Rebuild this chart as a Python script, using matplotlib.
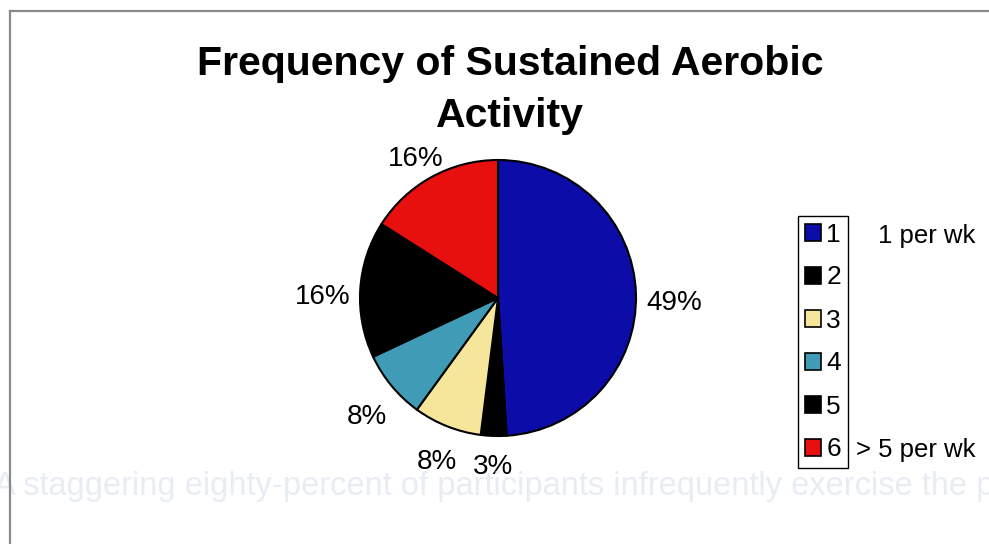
import matplotlib.pyplot as plt
import numpy as np

plt.rcParams['font.family'] = ['Liberation Sans', 'DejaVu Sans']

categories = ['1', '2', '3', '4', '5', '6']
shares = [49, 3, 8, 8, 16, 16]
pct_labels = ['49%', '3%', '8%', '8%', '16%', '16%']
colors = ['#0c0ca8', '#000000', '#f6e69c', '#3f9bb6', '#000000', '#e80f0f']
title = 'Frequency of Sustained Aerobic\nActivity'
top_note = '1 per wk'
bottom_note = '> 5 per wk'
ghost_text = 'A staggering eighty-percent of participants infrequently exercise the p'

W, H = 989, 544
fig = plt.figure(figsize=(W / 100, H / 100), dpi=100)
fig.patch.set_facecolor('white')

# page show-through at the bottom of the scan
fig.text(-6 / W, 1 - 486 / H, ghost_text, fontsize=23.5, color='#e8edf3',
         va='center', ha='left', zorder=0)

# outer frame: only the left and top edges are on the page
fig.add_artist(plt.Line2D([10 / W, 10 / W], [0, 1 - 11 / H], color='#8a8a8a', lw=1.6))
fig.add_artist(plt.Line2D([10 / W, 1], [1 - 11 / H, 1 - 11 / H], color='#8a8a8a', lw=1.6))

fig.text(510 / W, 1 - 90 / H, title, fontsize=29.5, fontweight='bold',
         ha='center', va='center', linespacing=1.44)

# pie: radius 1 data unit = 138 px
R = 138
lim = 1.5
ax = fig.add_axes([(498 - lim * R) / W, (H - 298 - lim * R) / H,
                   2 * lim * R / W, 2 * lim * R / H])
wedges, _ = ax.pie(shares, colors=colors, startangle=90, counterclock=False,
                   wedgeprops=dict(edgecolor='black', linewidth=1.5))
ax.set_xlim(-lim, lim)
ax.set_ylim(-lim, lim)
ax.set_aspect('equal')
ax.axis('off')

# percentage labels set just outside each wedge, clear of the rim
fig.canvas.draw()
renderer = fig.canvas.get_renderer()
px = 1.0 / R
gap = 0.07
drop = 0.075
for w, lab in zip(wedges, pct_labels):
    ang = np.deg2rad((w.theta1 + w.theta2) / 2)
    ux, uy = np.cos(ang), np.sin(ang)
    t = ax.text(0, 0, lab, fontsize=20, ha='center', va='center')
    bb = t.get_window_extent(renderer)
    hw, hh = bb.width / 2 * px, bb.height / 2 * px * 0.8
    d = 1 + gap + hw * abs(ux) + hh * abs(uy)
    t.set_position((d * ux, d * uy - drop))

leg = fig.legend(wedges, categories, loc='center',
                 bbox_to_anchor=(823 / W, 1 - 342 / H),
                 fontsize=19, frameon=True, fancybox=False, shadow=False,
                 edgecolor='black', framealpha=1, borderpad=0.25,
                 handlelength=0.6, handleheight=0.6, handletextpad=0.2,
                 labelspacing=0.72, borderaxespad=0)
leg.get_frame().set_linewidth(1.0)
for h in leg.legend_handles:
    h.set_edgecolor('black')
    h.set_linewidth(1.2)

fig.text(975 / W, 1 - 236 / H, top_note, fontsize=18.5, ha='right', va='center')
fig.text(975 / W, 1 - 450 / H, bottom_note, fontsize=18.5, ha='right', va='center')

fig.savefig('out.png', dpi=100)
